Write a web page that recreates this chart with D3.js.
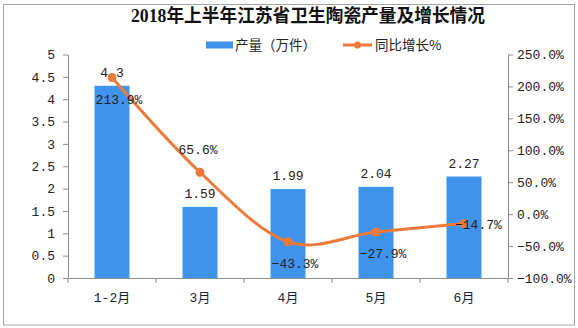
<!DOCTYPE html>
<html>
<head>
<meta charset="utf-8">
<script src="https://cdn.jsdelivr.net/npm/d3@7"></script>
<style>
  html, body { margin: 0; padding: 0; background: #fff; }
  svg { display: block; }
  .num { font-family: "Liberation Mono", "Noto Sans CJK SC", monospace; }
</style>
</head>
<body>
<svg id="chart" width="578" height="328"></svg>
<script>
// Output (10k pieces) and year-on-year growth (%) of sanitary ceramics, Jiangsu, H1 2018
const categories = ["1-2月", "3月", "4月", "5月", "6月"];
const output = [4.3, 1.59, 1.99, 2.04, 2.27];
const growth = [213.9, 65.6, -43.3, -27.9, -14.7];
const leftTicks = [0, 0.5, 1, 1.5, 2, 2.5, 3, 3.5, 4, 4.5, 5];
const rightTicks = [-100, -50, 0, 50, 100, 150, 200, 250];
const growthLabelPos = ["below", "above", "below", "below", "right"];

const W = 578, H = 328;
const margin = { left: 68, right: 70, top: 54.5, bottom: 50 };
const plotL = margin.left, plotR = W - margin.right, plotT = margin.top, plotB = H - margin.bottom;

const svg = d3.select("#chart");
const textColor = "#222";
const axisColor = "#8c8c8c";
const barColor = "#3f93ec";
const lineColor = "#ec7a3a";

// outer frame
svg.append("rect")
  .attr("x", 3.5).attr("y", 4.5)
  .attr("width", W - 7).attr("height", H - 7.5)
  .attr("fill", "none").attr("stroke", "#a6a6a6").attr("stroke-width", 1);

// title
svg.append("text")
  .attr("x", 131).attr("y", 21.5)
  .attr("font-family", "'Liberation Serif', 'Noto Sans CJK SC', serif")
  .attr("font-weight", "bold")
  .attr("font-size", 18)
  .attr("textLength", 354)
  .attr("lengthAdjust", "spacingAndGlyphs")
  .attr("fill", "#111")
  .text("2018年上半年江苏省卫生陶瓷产量及增长情况");

// scales
const xc = d3.scalePoint().domain(categories).range([plotL, plotR]).padding(0.5);
const yL = d3.scaleLinear().domain([0, 5]).range([plotB, plotT]);
const yR = d3.scaleLinear().domain([-100, 250]).range([plotB, plotT]);

// axes
const axisStyle = g => {
  g.select(".domain").attr("stroke", axisColor);
  g.selectAll(".tick line").attr("stroke", axisColor);
  g.selectAll(".tick text")
    .attr("class", "num")
    .attr("font-size", 13)
    .attr("fill", textColor);
};

svg.append("g")
  .attr("transform", `translate(${plotL},0)`)
  .call(d3.axisLeft(yL).tickValues(leftTicks).tickFormat(d3.format("")).tickSize(5).tickSizeOuter(0).tickPadding(8))
  .call(axisStyle);

svg.append("g")
  .attr("transform", `translate(${plotR},0)`)
  .call(d3.axisRight(yR).tickValues(rightTicks).tickFormat(d => d3.format(".1f")(d) + "%").tickSize(5).tickSizeOuter(0).tickPadding(4))
  .call(axisStyle);

// category axis: ticks sit between categories
const xAxis = svg.append("g").attr("transform", `translate(0,${plotB})`);
xAxis.append("line")
  .attr("x1", plotL).attr("x2", plotR).attr("y1", 0.5).attr("y2", 0.5)
  .attr("stroke", axisColor);
const step = (plotR - plotL) / categories.length;
xAxis.selectAll("line.sep")
  .data(d3.range(categories.length + 1))
  .join("line")
  .attr("class", "sep")
  .attr("x1", i => plotL + i * step).attr("x2", i => plotL + i * step)
  .attr("y1", 0).attr("y2", 5)
  .attr("stroke", axisColor);
xAxis.selectAll("text.cat")
  .data(categories)
  .join("text")
  .attr("class", "cat num")
  .attr("x", d => xc(d))
  .attr("y", 24)
  .attr("text-anchor", "middle")
  .attr("font-size", 13)
  .attr("fill", textColor)
  .text(d => d);

// bars
svg.append("g").selectAll("rect")
  .data(output)
  .join("rect")
  .attr("x", (d, i) => xc(categories[i]) - 17.5)
  .attr("width", 35)
  .attr("y", d => yL(d))
  .attr("height", d => yL(0) - yL(d))
  .attr("fill", barColor);

// bar value labels
svg.append("g").selectAll("text")
  .data(output)
  .join("text")
  .attr("class", "num")
  .attr("x", (d, i) => xc(categories[i]))
  .attr("y", d => yL(d) - 9)
  .attr("text-anchor", "middle")
  .attr("font-size", 13)
  .attr("fill", textColor)
  .text(d => d);

// growth line (smoothed)
const line = d3.line()
  .x((d, i) => xc(categories[i]))
  .y(d => yR(d))
  .curve(d3.curveCardinal.tension(0));

svg.append("path")
  .datum(growth)
  .attr("d", line)
  .attr("fill", "none")
  .attr("stroke", lineColor)
  .attr("stroke-width", 3)
  .attr("stroke-linecap", "round");

svg.append("g").selectAll("circle")
  .data(growth)
  .join("circle")
  .attr("cx", (d, i) => xc(categories[i]))
  .attr("cy", d => yR(d))
  .attr("r", 4.5)
  .attr("fill", lineColor);

// growth labels
svg.append("g").selectAll("text")
  .data(growth)
  .join("text")
  .attr("class", "num")
  .attr("font-size", 13)
  .attr("fill", textColor)
  .each(function (d, i) {
    const px = xc(categories[i]), py = yR(d);
    const pos = growthLabelPos[i];
    const t = d3.select(this);
    if (pos === "above") {
      t.attr("x", px - 2).attr("y", py - 18).attr("text-anchor", "middle");
    } else if (pos === "below") {
      t.attr("x", px + 7).attr("y", py + 26).attr("text-anchor", "middle");
    } else {
      t.attr("x", px - 9).attr("y", py + 5).attr("text-anchor", "start");
    }
  })
  .text(d => d3.format(".1f")(d) + "%");

// legend
const legend = svg.append("g");
legend.append("rect")
  .attr("x", 206).attr("y", 41.5).attr("width", 27).attr("height", 7)
  .attr("fill", barColor);
legend.append("text")
  .attr("x", 235).attr("y", 50)
  .attr("font-family", "'Noto Sans CJK SC', sans-serif")
  .attr("font-size", 13.5)
  .attr("fill", textColor)
  .text("产量（万件）");
legend.append("line")
  .attr("x1", 343).attr("x2", 372).attr("y1", 45).attr("y2", 45)
  .attr("stroke", lineColor).attr("stroke-width", 3);
legend.append("circle")
  .attr("cx", 357.5).attr("cy", 45).attr("r", 3.5)
  .attr("fill", lineColor);
legend.append("text")
  .attr("x", 375).attr("y", 50)
  .attr("font-family", "'Noto Sans CJK SC', sans-serif")
  .attr("font-size", 13.5)
  .attr("fill", textColor)
  .text("同比增长%");
</script>
</body>
</html>
